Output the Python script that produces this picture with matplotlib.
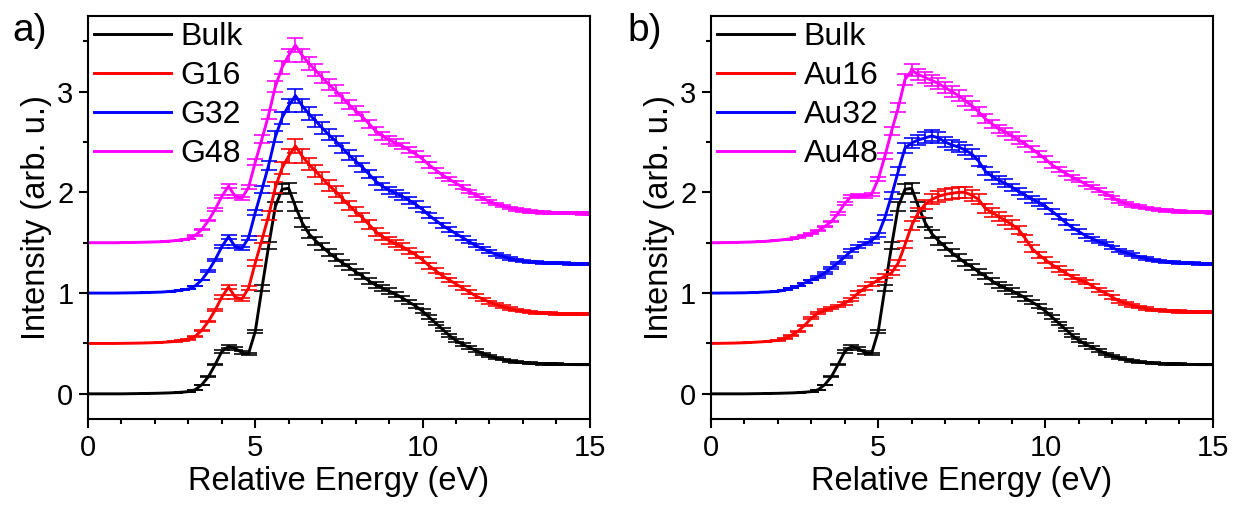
import numpy as np
import matplotlib
matplotlib.use("Agg")
import matplotlib.pyplot as plt
from matplotlib.ticker import MultipleLocator

plt.rcParams['font.family'] = ['Liberation Sans', 'DejaVu Sans']

# energy grid, 0 to 15 eV in 0.2 eV steps
energy = np.linspace(0, 15, 76)

bulk = [0.000, 0.000, 0.000, 0.000, 0.000, 0.000, 0.001, 0.002, 0.003, 0.004,
        0.005, 0.007, 0.009, 0.012, 0.016, 0.022, 0.04, 0.09, 0.17, 0.29,
        0.42, 0.47, 0.45, 0.41, 0.40, 0.62, 1.05, 1.47, 1.86, 2.03,
        2.04, 1.86, 1.70, 1.59, 1.52, 1.46, 1.40, 1.35, 1.30, 1.26,
        1.21, 1.17, 1.12, 1.08, 1.05, 1.02, 0.99, 0.95, 0.91, 0.87,
        0.82, 0.76, 0.70, 0.64, 0.58, 0.53, 0.49, 0.46, 0.43, 0.40,
        0.375, 0.355, 0.34, 0.325, 0.315, 0.31, 0.305, 0.30, 0.298, 0.296,
        0.294, 0.292, 0.291, 0.290, 0.290, 0.290]

g16 = [0.000, 0.000, 0.000, 0.000, 0.000, 0.001, 0.002, 0.003, 0.004, 0.006,
       0.008, 0.010, 0.015, 0.02, 0.03, 0.04, 0.07, 0.13, 0.22, 0.33,
       0.46, 0.56, 0.46, 0.44, 0.55, 0.80, 1.03, 1.27, 1.55, 1.74,
       1.86, 1.96, 1.86, 1.78, 1.71, 1.64, 1.57, 1.51, 1.44, 1.37,
       1.31, 1.25, 1.18, 1.11, 1.06, 1.02, 0.99, 0.96, 0.92, 0.88,
       0.83, 0.77, 0.72, 0.67, 0.63, 0.59, 0.55, 0.51, 0.47, 0.44,
       0.41, 0.385, 0.365, 0.345, 0.33, 0.32, 0.31, 0.305, 0.30, 0.298,
       0.296, 0.294, 0.292, 0.291, 0.290, 0.290]
g32 = list(g16)
g48 = list(g16)

au16 = [0.000, 0.001, 0.002, 0.003, 0.005, 0.007, 0.010, 0.014, 0.018, 0.024,
        0.03, 0.05, 0.08, 0.12, 0.18, 0.25, 0.30, 0.33, 0.35, 0.37,
        0.40, 0.44, 0.50, 0.55, 0.59, 0.63, 0.67, 0.70, 0.80, 0.98,
        1.17, 1.30, 1.38, 1.43, 1.46, 1.48, 1.49, 1.50, 1.50, 1.47,
        1.43, 1.34, 1.30, 1.26, 1.22, 1.18, 1.13, 1.04, 0.94, 0.88,
        0.83, 0.78, 0.74, 0.70, 0.66, 0.63, 0.61, 0.57, 0.53, 0.50,
        0.46, 0.42, 0.40, 0.38, 0.36, 0.345, 0.335, 0.33, 0.325, 0.32,
        0.318, 0.316, 0.314, 0.312, 0.311, 0.31]

au32 = [0.000, 0.000, 0.001, 0.001, 0.002, 0.003, 0.005, 0.007, 0.010, 0.013,
        0.017, 0.03, 0.05, 0.07, 0.10, 0.13, 0.16, 0.20, 0.25, 0.30,
        0.36, 0.42, 0.46, 0.49, 0.52, 0.58, 0.75, 0.97, 1.21, 1.44,
        1.49, 1.52, 1.54, 1.56, 1.54, 1.50, 1.47, 1.45, 1.42, 1.38,
        1.31, 1.21, 1.16, 1.12, 1.09, 1.05, 1.01, 0.97, 0.93, 0.90,
        0.86, 0.81, 0.76, 0.70, 0.65, 0.61, 0.57, 0.54, 0.51, 0.49,
        0.45, 0.42, 0.40, 0.38, 0.36, 0.345, 0.33, 0.32, 0.31, 0.305,
        0.30, 0.297, 0.295, 0.293, 0.291, 0.29]

au48 = [0.000, 0.000, 0.001, 0.002, 0.003, 0.005, 0.007, 0.010, 0.013, 0.017,
        0.025, 0.03, 0.04, 0.05, 0.07, 0.09, 0.12, 0.16, 0.21, 0.29,
        0.39, 0.46, 0.47, 0.46, 0.48, 0.63, 0.86, 1.11, 1.34, 1.62,
        1.71, 1.67, 1.64, 1.61, 1.58, 1.54, 1.50, 1.46, 1.41, 1.36,
        1.30, 1.23, 1.18, 1.13, 1.10, 1.06, 1.02, 0.98, 0.93, 0.88,
        0.83, 0.77, 0.73, 0.69, 0.65, 0.62, 0.58, 0.55, 0.52, 0.49,
        0.45, 0.41, 0.39, 0.37, 0.36, 0.345, 0.335, 0.325, 0.32, 0.315,
        0.31, 0.307, 0.305, 0.303, 0.301, 0.30]

offsets = [0.0, 0.5, 1.0, 1.5]
colors = ['black', 'red', 'blue', 'magenta']
rel_err = [0.025, 0.035, 0.035, 0.035]

labels_a = ['Bulk', 'G16', 'G32', 'G48']
labels_b = ['Bulk', 'Au16', 'Au32', 'Au48']
series_a = [bulk, g16, g32, g48]
series_b = [bulk, au16, au32, au48]

fig = plt.figure(figsize=(12.36, 5.13), dpi=100)
ax_a = fig.add_axes([0.0712, 0.1832, 0.406, 0.7856])
ax_b = fig.add_axes([0.5752, 0.1832, 0.406, 0.7856])


def draw_panel(ax, series, labels, tag, tag_x):
    for y, lab, off, c, re in zip(series, labels, offsets, colors, rel_err):
        y = np.array(y)
        ax.errorbar(energy, y + off, yerr=re * y, fmt='none', ecolor=c,
                    elinewidth=1.3, capsize=5.5, capthick=1.3, alpha=0.9)
        ax.plot(energy, y + off, color=c, lw=2.1, label=lab)
    ax.set_xlim(0, 15)
    ax.set_ylim(-0.25, 3.75)
    ax.xaxis.set_major_locator(MultipleLocator(5))
    ax.xaxis.set_minor_locator(MultipleLocator(1))
    ax.yaxis.set_major_locator(MultipleLocator(1))
    ax.yaxis.set_minor_locator(MultipleLocator(0.5))
    ax.tick_params(which='both', direction='out', width=1.5, labelsize=21,
                   top=False, right=False, pad=4)
    ax.tick_params(which='major', length=6.5)
    ax.tick_params(which='minor', length=3.8)
    for sp in ax.spines.values():
        sp.set_linewidth(1.5)
    ax.set_xlabel('Relative Energy (eV)', fontsize=23.5, labelpad=3)
    ax.set_ylabel('Intensity (arb. u.)', fontsize=23.5, labelpad=4)
    ax.legend(loc='upper left', bbox_to_anchor=(0.0, 1.0), frameon=False,
              fontsize=23, handlelength=2.4, handletextpad=0.3,
              labelspacing=0.28, borderpad=0.1, borderaxespad=0.1)
    fig.text(tag_x, 0.975, tag, fontsize=28, va='top')


draw_panel(ax_a, series_a, labels_a, 'a)', 0.010)
draw_panel(ax_b, series_b, labels_b, 'b)', 0.508)

fig.savefig('out.png', dpi=100)
